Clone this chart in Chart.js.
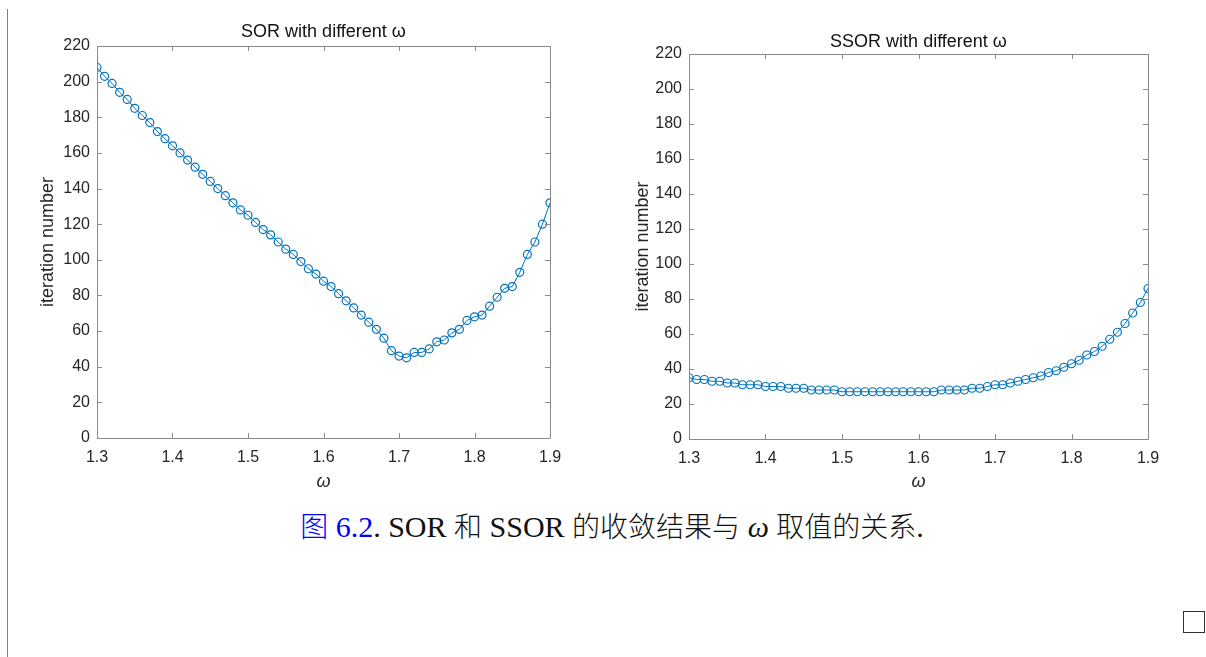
<!DOCTYPE html>
<html>
<head>
<meta charset="utf-8">
<script src="https://cdn.jsdelivr.net/npm/chart.js@4"></script>
<style>
  html, body { margin:0; padding:0; background:#fff; width:1206px; height:657px; overflow:hidden; }
  #c1 { position:absolute; left:0; top:0; }
  #c2 { position:absolute; left:600px; top:0; }
  #vline { position:absolute; left:7px; top:9px; width:1px; height:648px; background:#6f6fff; }
  #box { position:absolute; left:1183px; top:611px; width:20px; height:20px; border:1.5px solid #333; }
  #caption { position:absolute; left:0; width:1224px; top:507px; height:36px; line-height:36px; text-align:center;
    font-family:"Liberation Serif","Noto Sans CJK SC",serif; font-size:30px; color:#111; white-space:nowrap; }
  #caption .cjk { font-family:"Noto Sans CJK SC",sans-serif; font-size:28px; font-weight:300; }
  #caption .blue { color:#0000ff; }
</style>
</head>
<body>
<div id="vline"></div>
<canvas id="c1" width="600" height="500"></canvas>
<canvas id="c2" width="606" height="500"></canvas>
<div id="caption"><span class="blue"><span class="cjk">图</span> 6.2</span>. SOR <span class="cjk">和</span> SSOR <span class="cjk">的收敛结果与</span> <i>ω</i> <span class="cjk">取值的关系</span>.</div>
<div id="box"></div>
<script>
const omega = [1.30,1.31,1.32,1.33,1.34,1.35,1.36,1.37,1.38,1.39,
               1.40,1.41,1.42,1.43,1.44,1.45,1.46,1.47,1.48,1.49,
               1.50,1.51,1.52,1.53,1.54,1.55,1.56,1.57,1.58,1.59,
               1.60,1.61,1.62,1.63,1.64,1.65,1.66,1.67,1.68,1.69,
               1.70,1.71,1.72,1.73,1.74,1.75,1.76,1.77,1.78,1.79,
               1.80,1.81,1.82,1.83,1.84,1.85,1.86,1.87,1.88,1.89,1.90];
const sorIter = [208,203,199,194,190,185,181,177,172,168,
                 164,160,156,152,148,144,140,136,132,128,
                 125,121,117,114,110,106,103,99,95,92,
                 88,85,81,77,73,69,65,61,56,49,
                 46,45,48,48,50,54,55,59,61,66,
                 68,69,74,79,84,85,93,103,110,120,132];
const ssorIter = [35,34,34,33,33,32,32,31,31,31,
                  30,30,30,29,29,29,28,28,28,28,
                  27,27,27,27,27,27,27,27,27,27,
                  27,27,27,28,28,28,28,29,29,30,
                  31,31,32,33,34,35,36,38,39,41,
                  43,45,48,50,53,57,61,66,72,78,86];
const xTicks = [1.3,1.4,1.5,1.6,1.7,1.8,1.9];
const yTicks = [0,20,40,60,80,100,120,140,160,180,200,220];
const titles = ['SOR with different ω', 'SSOR with different ω'];

const axisColor = '#8a8a8a';
const textColor = '#262626';
const lineColor = '#0072BD';
const FONT = '"Liberation Sans", Arial, sans-serif';

const boxTicks = {
  id: 'boxTicks',
  afterDatasetsDraw(chart) {
    const {ctx, chartArea: a, scales} = chart;
    const L = 5;
    ctx.save();
    ctx.strokeStyle = axisColor;
    ctx.lineWidth = 1;
    ctx.beginPath();
    ctx.rect(Math.round(a.left)+0.5, Math.round(a.top)+0.5, Math.round(a.right-a.left), Math.round(a.bottom-a.top));
    scales.x.ticks.forEach(t => {
      const px = Math.round(scales.x.getPixelForValue(t.value)) + 0.5;
      ctx.moveTo(px, a.bottom); ctx.lineTo(px, a.bottom - L);
      ctx.moveTo(px, a.top); ctx.lineTo(px, a.top + L);
    });
    scales.y.ticks.forEach(t => {
      const py = Math.round(scales.y.getPixelForValue(t.value)) + 0.5;
      ctx.moveTo(a.left, py); ctx.lineTo(a.left + L, py);
      ctx.moveTo(a.right, py); ctx.lineTo(a.right - L, py);
    });
    ctx.stroke();
    ctx.restore();
  }
};

function makeChart(id, values, title, cfg) {
  const pts = omega.map((w, i) => ({x: w, y: values[i]}));
  return new Chart(document.getElementById(id), {
    type: 'line',
    data: { datasets: [{
      data: pts,
      borderColor: lineColor,
      borderWidth: 1,
      pointStyle: 'circle',
      pointRadius: 4,
      pointBorderWidth: 1.2,
      pointBorderColor: lineColor,
      pointBackgroundColor: 'rgba(0,0,0,0)',
      tension: 0,
      fill: false
    }]},
    options: {
      responsive: false,
      animation: false,
      layout: { padding: { left: 0, right: cfg.padRight, top: 0, bottom: 0 } },
      plugins: {
        legend: { display: false },
        tooltip: { enabled: false },
        title: {
          display: true, text: title, color: '#111', fullSize: false,
          font: { family: FONT, size: 18, weight: 'normal', lineHeight: 1.2 },
          padding: { top: cfg.titleTop, bottom: cfg.titleBottom }
        }
      },
      scales: {
        x: {
          type: 'linear', min: 1.3, max: 1.9,
          afterBuildTicks: s => { s.ticks = xTicks.map(v => ({value: v})); },
          afterFit: s => { s.height = cfg.xHeight; },
          grid: { display: false, drawTicks: false, tickLength: 0 },
          border: { display: false },
          ticks: { color: textColor, font: { family: FONT, size: 16 }, padding: 10, maxRotation: 0,
                   callback: v => v.toFixed(1) },
          title: { display: true, text: 'ω', color: textColor,
                   font: { family: FONT, size: 18, style: 'italic', lineHeight: 1.2 }, padding: { top: 0, bottom: 7 } }
        },
        y: {
          min: 0, max: 220,
          afterBuildTicks: s => { s.ticks = yTicks.map(v => ({value: v})); },
          afterFit: s => { s.width = cfg.yWidth; },
          grid: { display: false, drawTicks: false, tickLength: 0 },
          border: { display: false },
          ticks: { color: textColor, font: { family: FONT, size: 16 }, padding: 7 },
          title: { display: true, text: 'iteration number', color: textColor,
                   font: { family: FONT, size: 18, lineHeight: 1.2 }, padding: { top: cfg.yTitleTop, bottom: 0 } }
        }
      }
    },
    plugins: [boxTicks]
  });
}

makeChart('c1', sorIter, titles[0], { padRight: 50, titleTop: 21, titleBottom: 3.4, xHeight: 62, yWidth: 97, yTitleTop: 37 });
makeChart('c2', ssorIter, titles[1], { padRight: 58, titleTop: 31, titleBottom: 1.4, xHeight: 61, yWidth: 89, yTitleTop: 32 });
</script>
</body>
</html>
